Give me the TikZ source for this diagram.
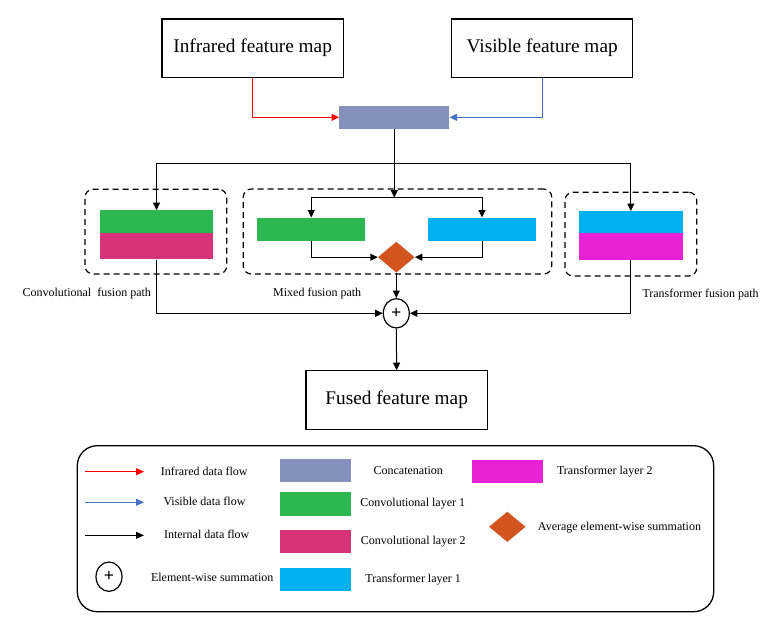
\documentclass[tikz,border=0pt]{standalone}
\usepackage{fontspec}
\setmainfont{Liberation Serif}
\usetikzlibrary{arrows.meta,shapes.geometric}
\definecolor{cconcat}{RGB}{133,145,188}
\definecolor{cgreen}{RGB}{44,183,80}
\definecolor{cpink}{RGB}{214,51,120}
\definecolor{ccyan}{RGB}{0,176,240}
\definecolor{cmag}{RGB}{234,34,214}
\definecolor{corange}{RGB}{210,85,32}
\definecolor{cblue}{RGB}{68,114,196}
\begin{document}
\begin{tikzpicture}[x=1pt,y=-1pt,
  bigbox/.style={draw,line width=1.1pt,rectangle,inner sep=0,minimum width=181.3pt,minimum height=58.3pt,font=\fontsize{19.3}{22}\selectfont},
  lbl/.style={inner sep=0,font=\fontsize{12}{14}\selectfont},
  fillbox/.style={rectangle,inner sep=0,draw=none,fill=#1},
  dashbox/.style={draw,rectangle,inner sep=0,line width=1.2pt,dash pattern=on 6pt off 4pt,rounded corners=8pt},
  arr/.style={-{Triangle[length=7.5pt,width=7pt]},line width=1pt},
  larr/.style={-{Triangle[length=8pt,width=7pt]},line width=0.9pt},
  avg/.style={diamond,fill=corange,draw=none,inner sep=0,minimum width=36.7pt,minimum height=31pt},
  sumnode/.style={ellipse,draw,line width=1.2pt,inner sep=0,minimum width=26pt,minimum height=29.4pt,font=\fontsize{18}{18}\selectfont\bfseries}
]
\useasboundingbox (0,0) rectangle (773,626);

% dashed path boxes
\node[dashbox,minimum width=141.7pt,minimum height=84.7pt] (lpath) at (155.85,231.65) {};
\node[dashbox,minimum width=308.4pt,minimum height=85pt] (mpath) at (397.5,231.5) {};
\node[dashbox,minimum width=131.7pt,minimum height=83.7pt] (rpath) at (630.85,234.15) {};

% top boxes
\node[bigbox] (ir) at (252.65,48.15) {Infrared feature map};
\node[bigbox] (vis) at (542.2,48.15) {Visible feature map};
\node[fillbox=cconcat,minimum width=110pt,minimum height=23.3pt] (cat) at (394.3,117.35) {};

% left stack
\node[fillbox=cgreen,minimum width=112.4pt,minimum height=22.7pt] (conv1) at (156.5,221.65) {};
\node[fillbox=cpink,minimum width=112.4pt,minimum height=26.3pt] (conv2) at (156.5,246.15) {};
% middle
\node[fillbox=cgreen,minimum width=108pt,minimum height=23pt] (mconv) at (311.3,229.2) {};
\node[fillbox=ccyan,minimum width=108pt,minimum height=23pt] (mtrans) at (482,229.2) {};
\node[avg] (diam) at (396.3,257.2) {};
% right stack
\node[fillbox=ccyan,minimum width=104.3pt,minimum height=22pt] (tr1) at (630.85,222.3) {};
\node[fillbox=cmag,minimum width=104.3pt,minimum height=26.4pt] (tr2) at (630.85,246.5) {};

\node[sumnode] (sum) at (396.3,313.3) {+};
\node[bigbox,minimum height=58.6pt] (fused) at (396.65,400) {Fused feature map};

% labels
\node[lbl] (lconv) at (86.8,293.5) {Convolutional\ \ fusion path};
\node[lbl] (lmix) at (317.2,293.5) {Mixed fusion path};
\node[lbl] (ltr) at (700.6,295) {Transformer fusion path};

% connectors
\coordinate (br) at (394.3,163.3);
\coordinate (mb) at (394.3,197.7);
\draw[arr,red] (ir.south) |- (cat.west);
\draw[arr,cblue] (vis.south) |- (cat.east);
\draw[arr] (cat.south) -- (mb);
\draw[arr] (br) -| (conv1.north);
\draw[arr] (br) -| (tr1.north);
\draw[arr] (mb) -| (mconv.north);
\draw[arr] (mb) -| (mtrans.north);
\draw[arr] (mconv.south) |- (diam.west);
\draw[arr] (mtrans.south) |- (diam.east);
\draw[arr] (diam.south) -- (sum.north);
\draw[arr] (conv2.south) |- (sum.west);
\draw[arr] (tr2.south) |- (sum.east);
\draw[arr] (sum.south) -- (fused.north);

% legend
\node[draw,rectangle,line width=1.3pt,rounded corners=20pt,inner sep=0,minimum width=636.4pt,minimum height=166pt] (legend) at (395.5,528.7) {};
\coordinate (ra) at (85,471.7); \coordinate (rb) at (144,471.7);
\coordinate (ba) at (85,502.3); \coordinate (bb) at (144,502.3);
\coordinate (ka) at (85,535.3); \coordinate (kb) at (144,535.3);
\draw[larr,red] (ra) -- (rb);
\draw[larr,cblue] (ba) -- (bb);
\draw[larr] (ka) -- (kb);
\node[lbl] (t1) at (204.3,471) {Infrared data flow};
\node[lbl] (t2) at (204.5,501.3) {Visible data flow};
\node[lbl] (t3) at (206.7,534.7) {Internal data flow};
\node[sumnode] (lsum) at (109,576.7) {+};
\node[lbl] (t4) at (212.2,577.3) {Element-wise summation};

\node[fillbox=cconcat,minimum width=71pt,minimum height=23.3pt] (s1) at (315.5,470.65) {};
\node[fillbox=cgreen,minimum width=71pt,minimum height=23.3pt] (s2) at (315.5,504) {};
\node[fillbox=cpink,minimum width=71pt,minimum height=23.3pt] (s3) at (315.5,541.65) {};
\node[fillbox=ccyan,minimum width=71pt,minimum height=23.3pt] (s4) at (315.5,579.65) {};
\node[lbl] (t5) at (408.3,470.7) {Concatenation};
\node[lbl] (t6) at (412.8,503.7) {Convolutional layer 1};
\node[lbl] (t7) at (413.3,541.7) {Convolutional layer 2};
\node[lbl] (t8) at (413.2,579.3) {Transformer layer 1};

\node[fillbox=cmag,minimum width=71pt,minimum height=23.3pt] (s5) at (507.2,471.65) {};
\node[lbl] (t9) at (604.8,472) {Transformer layer 2};
\node[avg,minimum height=30.3pt] (ldiam) at (507.3,526.8) {};
\node[lbl] (t10) at (619.5,527.3) {Average element-wise summation};
\end{tikzpicture}
\end{document}
